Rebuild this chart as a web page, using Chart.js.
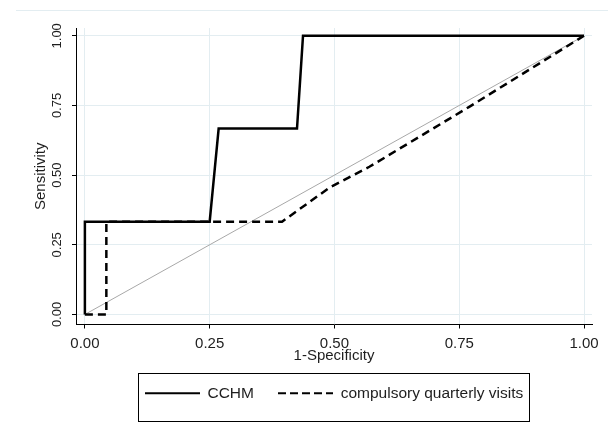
<!DOCTYPE html>
<html>
<head>
<meta charset="utf-8">
<script src="https://cdn.jsdelivr.net/npm/chart.js@4.4.1/dist/chart.umd.min.js"></script>
<style>
    html, body { margin: 0; padding: 0; background: #fff; }
    #wrap { width: 608px; height: 434px; }
</style>
</head>
<body>
<div id="wrap"><canvas id="rocChart" width="608" height="434"></canvas></div>
<script>
// ROC curves
const cchmX = [0, 0, 0.25, 0.268, 0.425, 0.437, 1];
const cchmY = [0, 0.333, 0.333, 0.667, 0.667, 1, 1];
const visitsX = [0, 0.043, 0.043, 0.395, 0.49, 0.57, 0.77, 1];
const visitsY = [0, 0, 0.333, 0.333, 0.455, 0.53, 0.745, 1];
const refX = [0, 1];
const refY = [0, 1];
const seriesLabels = ["CCHM", "compulsory quarterly visits"];
const xTicks = [0, 0.25, 0.5, 0.75, 1];
const yTicks = [0, 0.25, 0.5, 0.75, 1];

const gridColor = "#e3edf1";
const textColor = "#1e1e1e";
const fontFamily = "'Liberation Sans', Arial, sans-serif";

function toPoints(xs, ys) {
    return xs.map((x, i) => ({ x: x, y: ys[i] }));
}

// small canvas used as legend symbol (legend point style ignores borderDash)
function legendLine(dash) {
    const c = document.createElement("canvas");
    c.width = 55;
    c.height = 4;
    const g = c.getContext("2d");
    g.strokeStyle = "#000";
    g.lineWidth = 2;
    g.setLineDash(dash);
    g.beginPath();
    g.moveTo(0, 2);
    g.lineTo(55, 2);
    g.stroke();
    return c;
}

// light frame line on top + box round the legend
const framePlugin = {
    id: "frame",
    beforeDraw(chart) {
        const ctx = chart.ctx;
        ctx.save();
        ctx.strokeStyle = gridColor;
        ctx.lineWidth = 1;
        ctx.beginPath();
        ctx.moveTo(16, 10.5);
        ctx.lineTo(chart.width, 10.5);
        ctx.stroke();
        ctx.restore();
    },
    afterDraw(chart) {
        const boxes = chart.legend.legendHitBoxes;
        if (!boxes || !boxes.length) return;
        const left = Math.min(...boxes.map(b => b.left)) - 7;
        const right = Math.max(...boxes.map(b => b.left + b.width)) + 5;
        const top = boxes[0].top - 12.5;
        const ctx = chart.ctx;
        ctx.save();
        ctx.strokeStyle = "#000";
        ctx.lineWidth = 1;
        ctx.strokeRect(Math.round(left) + 0.5, Math.round(top) + 0.5, Math.round(right - left), 48);
        ctx.restore();
    }
};

const ctx = document.getElementById("rocChart").getContext("2d");
new Chart(ctx, {
    type: "scatter",
    data: {
        datasets: [
            {
                label: seriesLabels[0],
                data: toPoints(cchmX, cchmY),
                showLine: true,
                borderColor: "#000",
                backgroundColor: "#000",
                borderWidth: 2.5,
                pointRadius: 0,
                pointStyle: legendLine([]),
                order: 1
            },
            {
                label: seriesLabels[1],
                data: toPoints(visitsX, visitsY),
                showLine: true,
                borderColor: "#000",
                backgroundColor: "#000",
                borderWidth: 2.5,
                borderDash: [8, 5],
                pointRadius: 0,
                pointStyle: legendLine([8, 4]),
                order: 2
            },
            {
                label: "reference",
                data: toPoints(refX, refY),
                showLine: true,
                borderColor: "#a8a8a8",
                borderWidth: 1,
                pointRadius: 0,
                order: 3
            }
        ]
    },
    options: {
        responsive: false,
        animation: false,
        layout: { padding: { left: 0, right: 16, top: 28, bottom: 23 } },
        plugins: {
            tooltip: { enabled: false },
            legend: {
                position: "bottom",
                fullSize: false,
                labels: {
                    filter: item => item.datasetIndex < 2,
                    usePointStyle: true,
                    pointStyleWidth: 55,
                    padding: 24,
                    color: textColor,
                    font: { family: fontFamily, size: 15.5 }
                }
            }
        },
        scales: {
            x: {
                type: "linear",
                min: -0.0178,
                max: 1.016,
                afterBuildTicks: s => { s.ticks = xTicks.map(v => ({ value: v })); },
                afterFit: s => { s.height = 37; },
                ticks: {
                    autoSkip: false,
                    maxRotation: 0,
                    padding: 6,
                    color: textColor,
                    font: { family: fontFamily, size: 15 },
                    callback: v => Number(v).toFixed(2)
                },
                grid: { color: gridColor, tickColor: "#000", tickLength: 4 },
                border: { color: "#000", width: 1 },
                title: {
                    display: true,
                    text: "1-Specificity",
                    color: textColor,
                    font: { family: fontFamily, size: 15 },
                    padding: { top: 0, bottom: -3 }
                }
            },
            y: {
                type: "linear",
                min: -0.036,
                max: 1.028,
                afterBuildTicks: s => { s.ticks = yTicks.map(v => ({ value: v })); },
                afterFit: s => { s.width = 76; },
                ticks: {
                    autoSkip: false,
                    minRotation: 90,
                    maxRotation: 90,
                    crossAlign: "center",
                    padding: 2,
                    color: textColor,
                    font: { family: fontFamily, size: 13 },
                    callback: v => Number(v).toFixed(2)
                },
                grid: { color: gridColor, tickColor: "#000", tickLength: 4 },
                border: { color: "#000", width: 1 },
                title: {
                    display: true,
                    text: "Sensitivity",
                    color: textColor,
                    font: { family: fontFamily, size: 15 },
                    padding: { top: 32, bottom: 0 }
                }
            }
        }
    },
    plugins: [framePlugin]
});
</script>
</body>
</html>
